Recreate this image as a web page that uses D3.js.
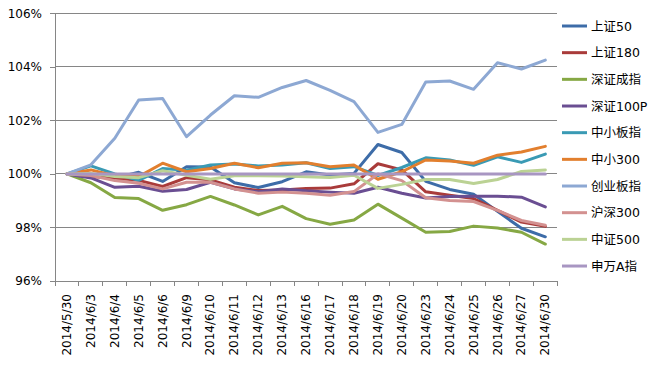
<!DOCTYPE html>
<html><head><meta charset="utf-8">
<script src="https://cdn.jsdelivr.net/npm/d3@7"></script>
<style>body{margin:0;background:#fff}svg{display:block}text{font-family:"DejaVu Sans","Noto Sans CJK SC",sans-serif;fill:#000}</style>
</head><body><svg id="c" width="649" height="366"></svg>
<script>
const dates = ["2014/5/30","2014/6/3","2014/6/4","2014/6/5","2014/6/6","2014/6/9","2014/6/10","2014/6/11","2014/6/12","2014/6/13","2014/6/16","2014/6/17","2014/6/18","2014/6/19","2014/6/20","2014/6/23","2014/6/24","2014/6/25","2014/6/26","2014/6/27","2014/6/30"];
const seriesNames = ["上证50","上证180","深证成指","深证100P","中小板指","中小300","创业板指","沪深300","中证500","申万A指"];
const seriesColors = ["#3D6CA8","#A93B3A","#86A844","#6A4E92","#3A9AB4","#E27F2E","#8DA8D3","#D39190","#BBD294","#A896C2"];
const sz50    = [100,99.95,99.85,100.06,99.72,100.27,100.26,99.67,99.49,99.71,100.08,99.96,100.02,101.1,100.8,99.72,99.42,99.24,98.6,97.97,97.65];
const sz180   = [100,99.9,99.84,99.76,99.53,99.86,99.78,99.5,99.38,99.4,99.46,99.47,99.63,100.38,100.15,99.33,99.2,99.08,98.64,98.2,98.04];
const szcz    = [100,99.67,99.12,99.08,98.64,98.85,99.16,98.84,98.47,98.79,98.33,98.12,98.28,98.87,98.35,97.82,97.85,98.05,97.98,97.82,97.38];
const sz100p  = [100,99.85,99.5,99.54,99.35,99.42,99.69,99.44,99.33,99.44,99.37,99.32,99.28,99.5,99.28,99.1,99.16,99.17,99.17,99.13,98.77];
const zxb     = [100,100.3,100.0,99.76,100.2,100.14,100.33,100.37,100.3,100.33,100.42,100.2,100.27,99.94,100.24,100.6,100.52,100.32,100.64,100.43,100.74];
const zx300   = [100,100.15,99.93,99.9,100.4,100.08,100.2,100.4,100.23,100.4,100.42,100.27,100.33,99.8,100.08,100.52,100.48,100.4,100.7,100.82,101.03];
const cyb     = [100,100.34,101.33,102.76,102.82,101.39,102.2,102.92,102.86,103.23,103.49,103.12,102.7,101.55,101.85,103.43,103.47,103.16,104.15,103.92,104.25];
const hs300   = [100,99.94,99.75,99.65,99.44,99.69,99.69,99.44,99.28,99.32,99.28,99.2,99.34,100.0,99.75,99.11,99.01,98.97,98.64,98.26,98.08];
const zz500   = [100,100.02,99.9,99.86,100.12,99.95,99.8,99.93,99.93,99.92,99.89,99.87,99.95,99.46,99.61,99.79,99.79,99.64,99.79,100.09,100.15];
const swa     = [100,100,100,100,100,100,100,100,100,100,100,100,100,100,100,100,100,100,100,100,100];
const allSeries = [sz50,sz180,szcz,sz100p,zxb,zx300,cyb,hs300,zz500,swa];
const yTicks = [96,98,100,102,104,106];

const svg = d3.select("#c");
const L=55,R=557.3,T=13.3,B=281;
const x = d3.scaleBand().domain(dates).range([L,R]).padding(0);
const y = d3.scaleLinear().domain([96,106]).range([B,T]);
const cx = d => x(d)+x.bandwidth()/2;

// gridlines
svg.append("g").selectAll("line").data(yTicks.filter(t=>t>96)).join("line")
  .attr("x1",L).attr("x2",R).attr("y1",d=>y(d)).attr("y2",d=>y(d))
  .attr("stroke","#868686").attr("stroke-width",1).attr("shape-rendering","crispEdges");

// y axis
const ya = svg.append("g").attr("transform",`translate(${L},0)`)
  .call(d3.axisLeft(y).tickValues(yTicks).tickSize(5).tickPadding(8).tickFormat(d=>d+"%"));
ya.select(".domain").attr("stroke","#868686").attr("shape-rendering","crispEdges");
ya.selectAll(".tick line").attr("stroke","#868686").attr("shape-rendering","crispEdges");
ya.selectAll("text").style("font-size","12px").attr("fill","#000");

// x axis
const xa = svg.append("g").attr("transform",`translate(0,${B})`)
  .call(d3.axisBottom(x).tickSize(0).tickFormat(""));
xa.select(".domain").attr("stroke","#868686").attr("shape-rendering","crispEdges");
xa.selectAll(".tick").remove();
// boundary ticks
const bounds = d3.range(dates.length+1).map(i=>L+i*x.bandwidth());
svg.append("g").selectAll("line").data(bounds).join("line")
  .attr("x1",d=>d).attr("x2",d=>d).attr("y1",B).attr("y2",B+5)
  .attr("stroke","#868686").attr("shape-rendering","crispEdges");
svg.append("g").selectAll("text").data(dates).join("text")
  .attr("transform",d=>`translate(${cx(d)+4},${B+13}) rotate(-90)`)
  .attr("text-anchor","end").style("font-size","12px").text(d=>d);

// lines
const line = d3.line().x((d,i)=>cx(dates[i])).y(d=>y(d));
svg.append("g").selectAll("path").data(allSeries).join("path")
  .attr("d",line).attr("fill","none")
  .attr("stroke",(d,i)=>seriesColors[i]).attr("stroke-width",3)
  .attr("stroke-linejoin","round").attr("stroke-linecap","round");

// legend
const lg = svg.append("g").selectAll("g").data(seriesNames).join("g")
  .attr("transform",(d,i)=>`translate(562,${26+i*26.67})`);
lg.append("line").attr("x1",0).attr("x2",25).attr("y1",0).attr("y2",0)
  .attr("stroke",(d,i)=>seriesColors[i]).attr("stroke-width",3);
lg.append("text").attr("x",29).attr("y",4.5).style("font-size","12.5px").text(d=>d);
</script></body></html>
